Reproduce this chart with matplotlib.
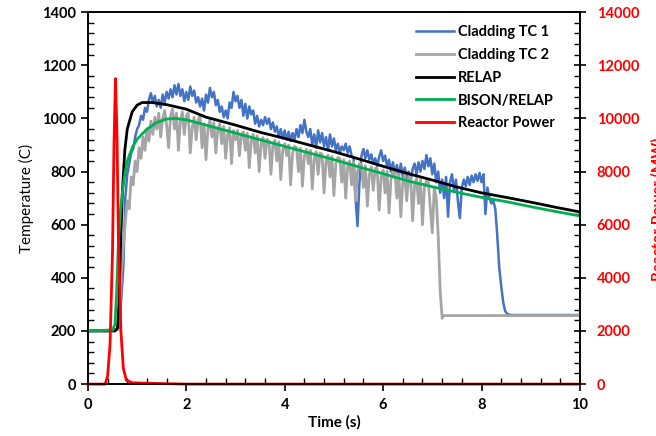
import numpy as np
import matplotlib.pyplot as plt
from matplotlib.ticker import MultipleLocator

plt.rcParams['font.family'] = ['Lato', 'DejaVu Sans']

# RELAP and BISON/RELAP temperatures (C)
relap_t = [0, 0.55, 0.6, 0.63, 0.66, 0.7, 0.75, 0.8, 0.9, 1.0, 1.1, 1.3, 1.6, 2.0, 2.4,
           3.0, 3.5, 4.0, 4.5, 5.0, 5.5, 6.0, 6.5, 7.0, 7.5, 8.0, 8.5, 9.0, 9.5, 10]
relap_T = [200, 200, 210, 300, 500, 720, 880, 960, 1025, 1050, 1060, 1060, 1052, 1035, 1005,
           975, 948, 925, 900, 875, 848, 820, 793, 768, 742, 720, 703, 685, 666, 648]
bison_t = [0, 0.5, 0.55, 0.58, 0.62, 0.66, 0.7, 0.75, 0.8, 0.9, 1.0, 1.2, 1.4, 1.6, 1.8, 2.0,
           2.4, 3.0, 3.5, 4.0, 4.5, 5.0, 5.5, 6.0, 6.5, 7.0, 7.5, 8.0, 8.5, 9.0, 9.5, 10]
bison_T = [200, 203, 225, 330, 530, 650, 720, 790, 840, 890, 922, 960, 985, 998, 1000, 995,
           975, 945, 920, 895, 870, 845, 818, 792, 765, 743, 722, 703, 687, 668, 650, 633]

# thermocouples, sampled every 0.04 s from 0.60 s
tc1 = [205, 215, 330, 440, 700, 790, 830, 870, 885, 930, 960, 975, 1010, 995, 1040, 1025,
       1070, 1095, 1060, 1085, 1045, 1070, 1040, 1090, 1060, 1100, 1075, 1110, 1080, 1125,
       1090, 1130, 1085, 1110, 1065, 1100, 1070, 1120, 1085, 1105, 1060, 1080, 1045, 1075,
       1030, 1090, 1060, 1115, 1080, 1100, 1050, 1070, 1025, 1045, 1005, 1030, 1000, 1060,
       1040, 1100, 1065, 1085, 1040, 1070, 1010, 1055, 1000, 1045, 1015, 1030, 980, 1010,
       970, 995, 975, 1005, 980, 1000, 960, 985, 950, 970, 930, 960, 925, 955, 920, 950,
       915, 945, 920, 960, 930, 975, 945, 995, 950, 930, 960, 900, 940, 890, 955, 910,
       945, 895, 930, 880, 940, 895, 925, 880, 905, 870, 895, 880, 905, 870, 895, 860,
       850, 700, 595, 760, 860, 885, 850, 880, 845, 865, 830, 850, 820, 855, 880, 840,
       860, 820, 845, 800, 835, 790, 825, 785, 830, 780, 815, 775, 800, 765, 810, 830,
       790, 835, 800, 840, 810, 862, 820, 850, 790, 830, 760, 800, 720, 770, 700, 780,
       630, 760, 790, 730, 770, 690, 625, 740, 770, 745, 780, 750, 785, 760, 790, 765,
       795, 760, 790, 640, 740, 700, 680, 690, 660, 560, 440, 370, 310, 275, 265, 262, 260]
tc2 = [205, 230, 420, 520, 610, 690, 660, 780, 750, 840, 800, 890, 850, 930, 880, 960,
       915, 990, 940, 1005, 960, 1020, 930, 1000, 1030, 975, 890, 1010, 1035, 960, 1020,
       880, 990, 1025, 940, 1010, 1020, 870, 965, 1005, 920, 995, 1010, 890, 980, 845,
       960, 995, 930, 985, 870, 960, 980, 905, 970, 850, 940, 965, 830, 955,
       920, 955, 860, 940, 950, 880, 945, 815, 920, 940, 870, 935, 800, 905, 928, 850,
       922, 915, 790, 900, 918, 840, 912, 770, 880, 905, 860, 900, 750, 870, 895, 890,
       800, 888, 745, 860, 884, 830, 880, 735, 850, 874, 790, 870, 865, 720, 840, 862,
       780, 857, 710, 830, 853, 850, 760, 845, 700, 820, 840, 750, 836, 690, 800, 830,
       826, 740, 822, 670, 790, 818, 730, 813, 810, 655, 780, 806, 720, 802, 645, 770,
       798, 794, 700, 790, 630, 760, 786, 690, 782, 778, 615, 750, 774, 680, 770, 600,
       740, 764, 760, 660, 570, 740, 700, 560, 350, 248, 258]

# reactor power (MW)
power_t = [0, 0.35, 0.4, 0.45, 0.5, 0.53, 0.56, 0.59, 0.62, 0.67, 0.72, 0.78, 0.9, 1.5, 2.0, 10]
power_P = [0, 0, 300, 1500, 5000, 9000, 11500, 9500, 5500, 2000, 600, 150, 50, 20, 0, 0]

tc1_t = 0.6 + 0.04 * np.arange(len(tc1))
tc2_t = 0.6 + 0.04 * np.arange(len(tc2))
tc1_t = np.concatenate([[0], tc1_t, [10]])
tc1_T = np.concatenate([[200], tc1, [260]])
tc2_t = np.concatenate([[0], tc2_t, [10]])
tc2_T = np.concatenate([[200], tc2, [258]])

fig = plt.figure(figsize=(6.56, 4.36), dpi=100)
ax = fig.add_axes([0.134, 0.119, 0.75, 0.853])
ax2 = ax.twinx()
ax.set_zorder(ax2.get_zorder() + 1)
ax.patch.set_visible(False)

l1, = ax.plot(tc1_t, tc1_T, c='#4472C4', lw=1.8, label='Cladding TC 1')
l2, = ax.plot(tc2_t, tc2_T, c='#A5A5A5', lw=2.0, label='Cladding TC 2')
l3, = ax.plot(relap_t, relap_T, c='k', lw=2, label='RELAP')
l4, = ax.plot(bison_t, bison_T, c='#00B050', lw=2, label='BISON/RELAP')
# power on the right axis scale, drawn in the top axes so it stays on top
l5, = ax.plot(power_t, np.array(power_P) / 10.0, c='#FF0000', lw=2, label='Reactor Power',
              clip_on=False)

ax.set_xlim(0, 10)
ax.set_ylim(0, 1400)
ax2.set_ylim(0, 14000)
ax.xaxis.set_major_locator(MultipleLocator(2))
ax.xaxis.set_minor_locator(MultipleLocator(0.4))
ax.yaxis.set_major_locator(MultipleLocator(200))
ax.yaxis.set_minor_locator(MultipleLocator(40))
ax2.yaxis.set_major_locator(MultipleLocator(2000))
ax2.yaxis.set_minor_locator(MultipleLocator(400))

ax.tick_params(which='major', direction='out', length=5, width=1.2, labelsize=10.5)
ax.tick_params(which='minor', direction='in', length=4, width=1)
ax.tick_params(axis='x', which='major', pad=5)
ax2.tick_params(which='major', direction='inout', length=8, width=1.2, labelsize=10.5,
                labelcolor='#FF0000', pad=8)
ax2.tick_params(which='minor', direction='in', length=4, width=1)
for lab in ax.get_xticklabels() + ax.get_yticklabels() + ax2.get_yticklabels():
    lab.set_fontweight('bold')
for sp in list(ax.spines.values()) + list(ax2.spines.values()):
    sp.set_linewidth(1.2)

ax.set_xlabel('Time (s)', fontsize=11, fontweight='bold', labelpad=2)
ax.set_ylabel('Temperature (C)', fontsize=11, labelpad=6)
ax2.set_ylabel('Reactor Power (MW)', fontsize=11, fontweight='bold', color='#FF0000',
               rotation=90)
ax2.yaxis.set_label_coords(1.145, 0.47)

leg = ax.legend(handles=[l1, l2, l3, l4, l5], loc='upper left', bbox_to_anchor=(0.64, 1.0),
                frameon=False, handlelength=2.6, labelspacing=0.6,
                handletextpad=0.3, prop={'weight': 'bold', 'size': 10.5})

fig.savefig('out.png', dpi=100)
